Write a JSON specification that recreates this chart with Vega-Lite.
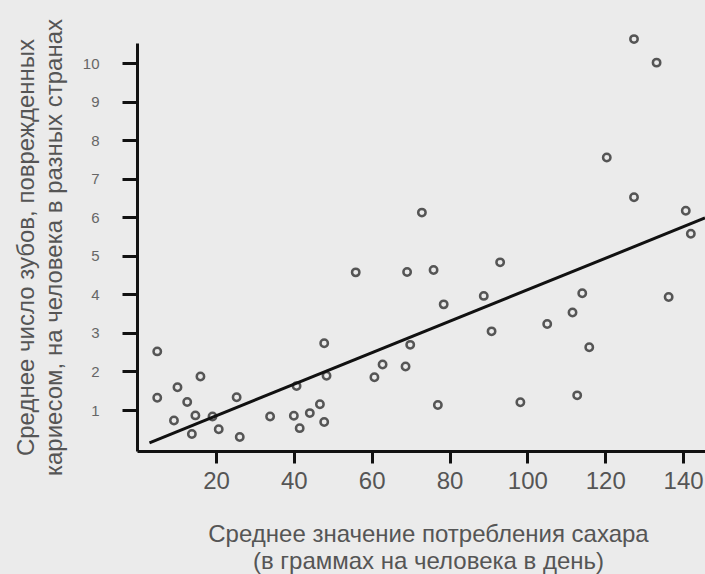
{
  "$schema": "https://vega.github.io/schema/vega-lite/v6.json",
  "width": 568,
  "height": 408,
  "autosize": {"type": "none"},
  "padding": {"left": 137, "top": 43, "right": 0, "bottom": 123},
  "background": "#ebebeb",
  "config": {"view": {"stroke": null}, "font": "Liberation Sans"},
  "datasets": {
    "points": [
      {"sugar": 4.9, "caries": 2.52},
      {"sugar": 4.9, "caries": 1.32},
      {"sugar": 10.1, "caries": 1.59},
      {"sugar": 9.2, "caries": 0.73},
      {"sugar": 12.6, "caries": 1.21},
      {"sugar": 16.0, "caries": 1.87},
      {"sugar": 14.7, "caries": 0.86},
      {"sugar": 13.8, "caries": 0.38},
      {"sugar": 19.1, "caries": 0.83},
      {"sugar": 20.7, "caries": 0.5},
      {"sugar": 25.3, "caries": 1.33},
      {"sugar": 26.1, "caries": 0.3},
      {"sugar": 33.9, "caries": 0.83},
      {"sugar": 40.0, "caries": 0.85},
      {"sugar": 40.7, "caries": 1.62},
      {"sugar": 41.5, "caries": 0.53},
      {"sugar": 44.1, "caries": 0.92},
      {"sugar": 46.7, "caries": 1.15},
      {"sugar": 47.8, "caries": 0.69},
      {"sugar": 47.8, "caries": 2.73},
      {"sugar": 48.4, "caries": 1.89},
      {"sugar": 55.9, "caries": 4.57},
      {"sugar": 60.7, "caries": 1.85},
      {"sugar": 62.8, "caries": 2.18},
      {"sugar": 68.7, "caries": 2.13},
      {"sugar": 69.1, "caries": 4.58},
      {"sugar": 69.9, "caries": 2.69},
      {"sugar": 72.9, "caries": 6.12},
      {"sugar": 75.9, "caries": 4.63},
      {"sugar": 77.0, "caries": 1.13},
      {"sugar": 78.5, "caries": 3.74},
      {"sugar": 88.8, "caries": 3.96},
      {"sugar": 90.8, "caries": 3.04},
      {"sugar": 93.0, "caries": 4.83},
      {"sugar": 98.2, "caries": 1.2},
      {"sugar": 105.1, "caries": 3.23},
      {"sugar": 111.6, "caries": 3.53},
      {"sugar": 112.8, "caries": 1.38},
      {"sugar": 114.1, "caries": 4.03},
      {"sugar": 115.9, "caries": 2.63},
      {"sugar": 120.4, "caries": 7.55},
      {"sugar": 127.4, "caries": 10.62},
      {"sugar": 127.4, "caries": 6.52},
      {"sugar": 133.2, "caries": 10.01},
      {"sugar": 136.3, "caries": 3.93},
      {"sugar": 140.7, "caries": 6.17},
      {"sugar": 142.0, "caries": 5.57}
    ],
    "fit": [
      {"sugar": 2.9, "caries": 0.15},
      {"sugar": 145.64, "caries": 5.98}
    ]
  },
  "layer": [
    {
      "data": {"name": "points"},
      "mark": {"type": "point", "shape": "circle", "filled": false, "stroke": "#555555", "strokeWidth": 2.5, "size": 55, "opacity": 1},
      "encoding": {
        "x": {
          "field": "sugar", "type": "quantitative",
          "scale": {"domain": [-0.3, 145.64], "nice": false, "zero": false},
          "axis": {
            "values": [20, 40, 60, 80, 100, 120, 140],
            "grid": false,
            "domainColor": "#111111", "domainWidth": 3,
            "tickColor": "#111111", "tickWidth": 3, "tickSize": 12,
            "labelFontSize": 24, "labelColor": "#555555", "labelPadding": 6,
            "title": ["Среднее значение потребления сахара", "(в граммах на человека в день)"],
            "titleFontSize": 24, "titleFontWeight": "normal", "titleColor": "#555555",
            "titleLineHeight": 27, "titleBaseline": "alphabetic", "titleAlign": "center",
            "titleX": 291, "titleY": 90
          }
        },
        "y": {
          "field": "caries", "type": "quantitative",
          "scale": {"domain": [-0.063, 10.519], "nice": false, "zero": false},
          "axis": {
            "values": [1, 2, 3, 4, 5, 6, 7, 8, 9, 10],
            "grid": false,
            "domainColor": "#111111", "domainWidth": 3,
            "tickColor": "#111111", "tickWidth": 3, "tickSize": 15,
            "labelFontSize": 15, "labelColor": "#666666", "labelPadding": 23,
            "title": ["Среднее число зубов, поврежденных", "кариесом, на человека в разных странах"],
            "titleFontSize": 24, "titleFontWeight": "normal", "titleColor": "#555555",
            "titleLineHeight": 28, "titleBaseline": "alphabetic", "titleAlign": "center",
            "titleAngle": 270, "titleX": -104, "titleY": 204
          }
        }
      }
    },
    {
      "data": {"name": "fit"},
      "mark": {"type": "line", "color": "#111111", "strokeWidth": 3},
      "encoding": {
        "x": {"field": "sugar", "type": "quantitative"},
        "y": {"field": "caries", "type": "quantitative"}
      }
    }
  ]
}
